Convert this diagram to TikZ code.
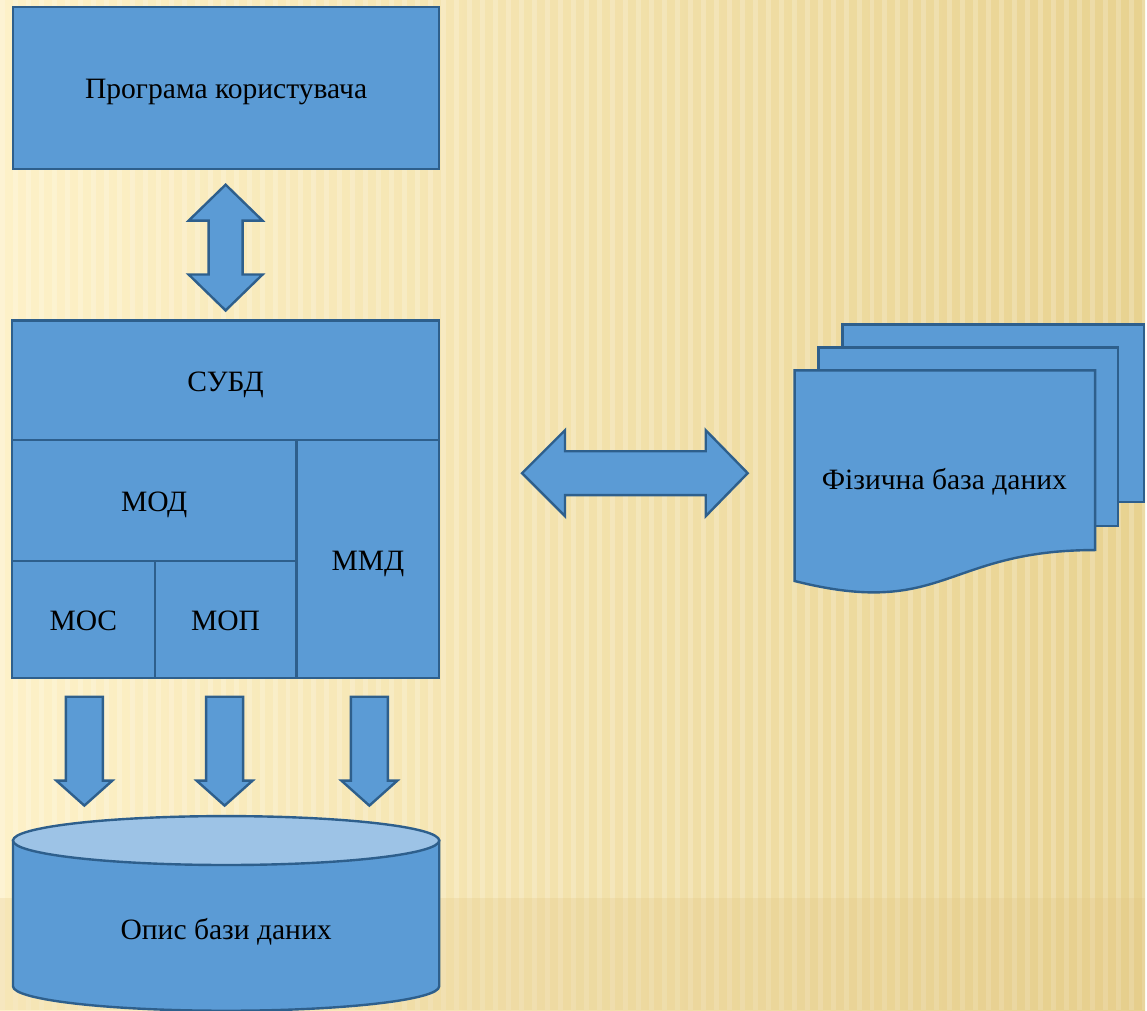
\documentclass[tikz,border=0pt]{standalone}
\usepackage{fontspec}
\setmainfont{Liberation Serif}
\usetikzlibrary{positioning}

\definecolor{boxblue}{HTML}{5B9BD5}
\definecolor{boxline}{HTML}{2E5F8C}
\definecolor{toplight}{HTML}{9DC3E6}
\definecolor{bgleft}{HTML}{FDF1C8}
\definecolor{bgright}{HTML}{E8D290}

\tikzset{
    block/.style={draw=boxline, fill=boxblue, line width=1.2pt, inner sep=0pt,
        font=\fontsize{14.8}{17}\selectfont, text height=13pt, text depth=2pt},
    bigarrow/.style={draw=boxline, fill=boxblue, line width=1.2pt, line join=miter},
    label/.style={font=\fontsize{14.8}{17}\selectfont, text height=13pt, text depth=2pt},
}

\begin{document}
\begin{tikzpicture}[x=0.5pt, y=-0.5pt]

    % background
    \fill[left color=bgleft, right color=bgright] (0,0) rectangle (1147,1012);
    \foreach \sx in {0,13,...,1147}
        \fill[white, opacity=0.2] (\sx,0) rectangle ++(5,1012);
    \fill[bgright!85!brown, opacity=0.25] (0,900) rectangle (1147,1012);
    \useasboundingbox (0,0) rectangle (1147,1012);

    % user program
    \node[block, minimum width=213.5pt, minimum height=81pt] (prog) at (226.5,88) {Програма користувача};

    % DBMS block
    \node[block, minimum width=214pt, minimum height=60pt] (subd) at (226,381) {СУБД};
    \node[block, minimum width=142.5pt, minimum height=60.5pt] (mod) at (154.5,501.5) {МОД};
    \node[block, minimum width=71.5pt, minimum height=119pt] (mmd) at (368.5,560) {ММД};
    \node[block, minimum width=71.5pt, minimum height=58.5pt] (moc) at (83.5,620.5) {МОС};
    \node[block, minimum width=71pt, minimum height=58.5pt] (mop) at (226,620.5) {МОП};

    % arrows
    \draw[bigarrow] (226,185) -- (263,221) -- (243,221) -- (243,275) -- (263,275) -- (226,311)
        -- (189,275) -- (209,275) -- (209,221) -- (189,221) -- cycle;
    \draw[bigarrow] (523,474) -- (566,431) -- (566,452) -- (707,452) -- (707,431) -- (749,474)
        -- (707,517) -- (707,496) -- (566,496) -- (566,517) -- cycle;
    \foreach \cx in {84.5,225,370}
        \draw[bigarrow] ({\cx-18.5},698) -- ({\cx+18.5},698) -- ({\cx+18.5},782) -- ({\cx+28},782)
            -- (\cx,807) -- ({\cx-28},782) -- ({\cx-18.5},782) -- cycle;

    % database description
    \draw[bigarrow] (13,842) -- (13,988) arc[start angle=180, end angle=360, x radius=106.75pt, y radius=12.25pt]
        -- (440,842) -- cycle;
    \draw[bigarrow, fill=toplight] (226.5,842) ellipse[x radius=106.75pt, y radius=12.25pt];
    \node[label] (opys) at (226.5,930) {Опис бази даних};

    % physical database
    \draw[bigarrow] (844,325) rectangle (1146,503);
    \draw[bigarrow] (820,348) rectangle (1120,527);
    \draw[bigarrow] (796,371) -- (1097,371) -- (1097,551) .. controls (946,551) and (946,620) .. (796,582) -- cycle;
    \node[label] (fiz) at (946,479) {Фізична база даних};

\end{tikzpicture}
\end{document}
